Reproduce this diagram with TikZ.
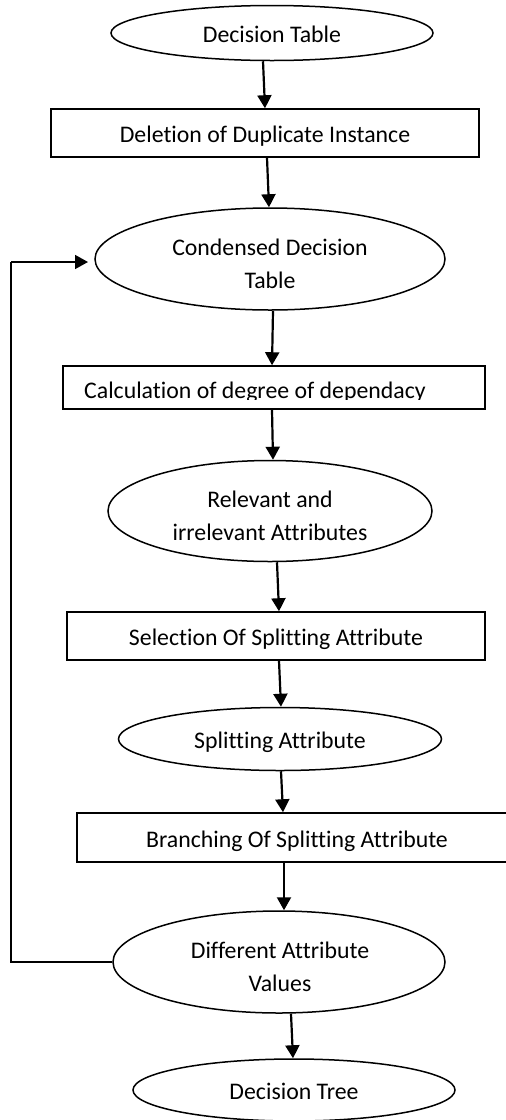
\documentclass[tikz,border=0pt]{standalone}
\usepackage{fontspec}
\setmainfont{Carlito}[Ligatures={NoCommon}]
\usetikzlibrary{shapes.geometric,arrows.meta}
\begin{document}
\begin{tikzpicture}[x=1pt,y=-1pt,
  every node/.style={font=\fontsize{23.8}{33}\selectfont, inner sep=0pt},
  ell/.style={draw, ellipse, line width=1.5pt, align=center},
  box/.style={draw, rectangle, line width=1.5pt, align=center},
  txt/.style={align=center},
  one/.style={text height=19pt, text depth=0pt},
  arr/.style={line width=2.2pt, -{Triangle[length=13pt,width=14pt]}},
  fb/.style={line width=1.6pt}]
\useasboundingbox (0,0) rectangle (506,1120);
\node[ell, one, minimum width=322pt, minimum height=55pt] (e1) at (272,33) {Decision Table};
\node[box, one, minimum width=428pt, minimum height=48pt] (b1) at (265,133) {Deletion of Duplicate Instance};
\node[ell, minimum width=350pt, minimum height=102pt] (e2) at (270,259) {};
\node[txt] (t2) at (270,264) {Condensed Decision\\Table};
\node[box, minimum width=422pt, minimum height=43pt] (b2) at (274,387.5) {};
\begin{scope}
  \clip (63,366) rectangle (485,399);
  \node[anchor=base west] (tb2) at (84,398) {Calculation of degree of dependacy};
\end{scope}
\node[ell, minimum width=324pt, minimum height=101pt] (e3) at (270,511) {};
\node[txt] (t3) at (270,516) {Relevant and\\irrelevant Attributes};
\node[box, one, minimum width=418pt, minimum height=48pt] (b3) at (276,636) {Selection Of Splitting Attribute};
\node[ell, one, minimum width=323pt, minimum height=63pt] (e4) at (280,739) {Splitting Attribute};
\node[box, one, minimum width=440pt, minimum height=49pt] (b4) at (297,837.5) {Branching Of Splitting Attribute};
\node[ell, minimum width=332pt, minimum height=102pt] (e5) at (279,962) {};
\node[txt] (t5) at (280,967) {Different Attribute\\Values};
\node[ell, one, minimum width=322pt, minimum height=62pt] (e6) at (294,1090) {Decision Tree};
\draw[arr] ([xshift=-9pt]e1.south) -- ([xshift=0pt]b1.north);
\draw[arr] ([xshift=2pt]b1.south) -- ([xshift=4pt]b1.south |- e2.north);
\draw[arr] ([xshift=3pt]e2.south) -- ([xshift=-2pt]b2.north);
\draw[arr] ([xshift=-2pt]b2.south) -- ([xshift=3pt]e3.north);
\draw[arr] ([xshift=7pt]e3.south) -- ([xshift=3pt]b3.north);
\draw[arr] ([xshift=3pt]b3.south) -- ([xshift=1pt]e4.north);
\draw[arr] ([xshift=1pt]e4.south) -- ([xshift=-14pt]b4.north);
\draw[arr] ([xshift=-13pt]b4.south) -- ([xshift=5pt]e5.north);
\draw[arr] ([xshift=12pt]e5.south) -- ([xshift=-1pt]e6.north);
\coordinate (c1) at (11,962);
\coordinate (c2) at (11,262);
\draw[fb] (e5.west |- c1) -- (c1) -- (c2);
\draw[arr, line width=1.6pt] (c2) -- (88,262) coordinate (c3);
\end{tikzpicture}
\end{document}
